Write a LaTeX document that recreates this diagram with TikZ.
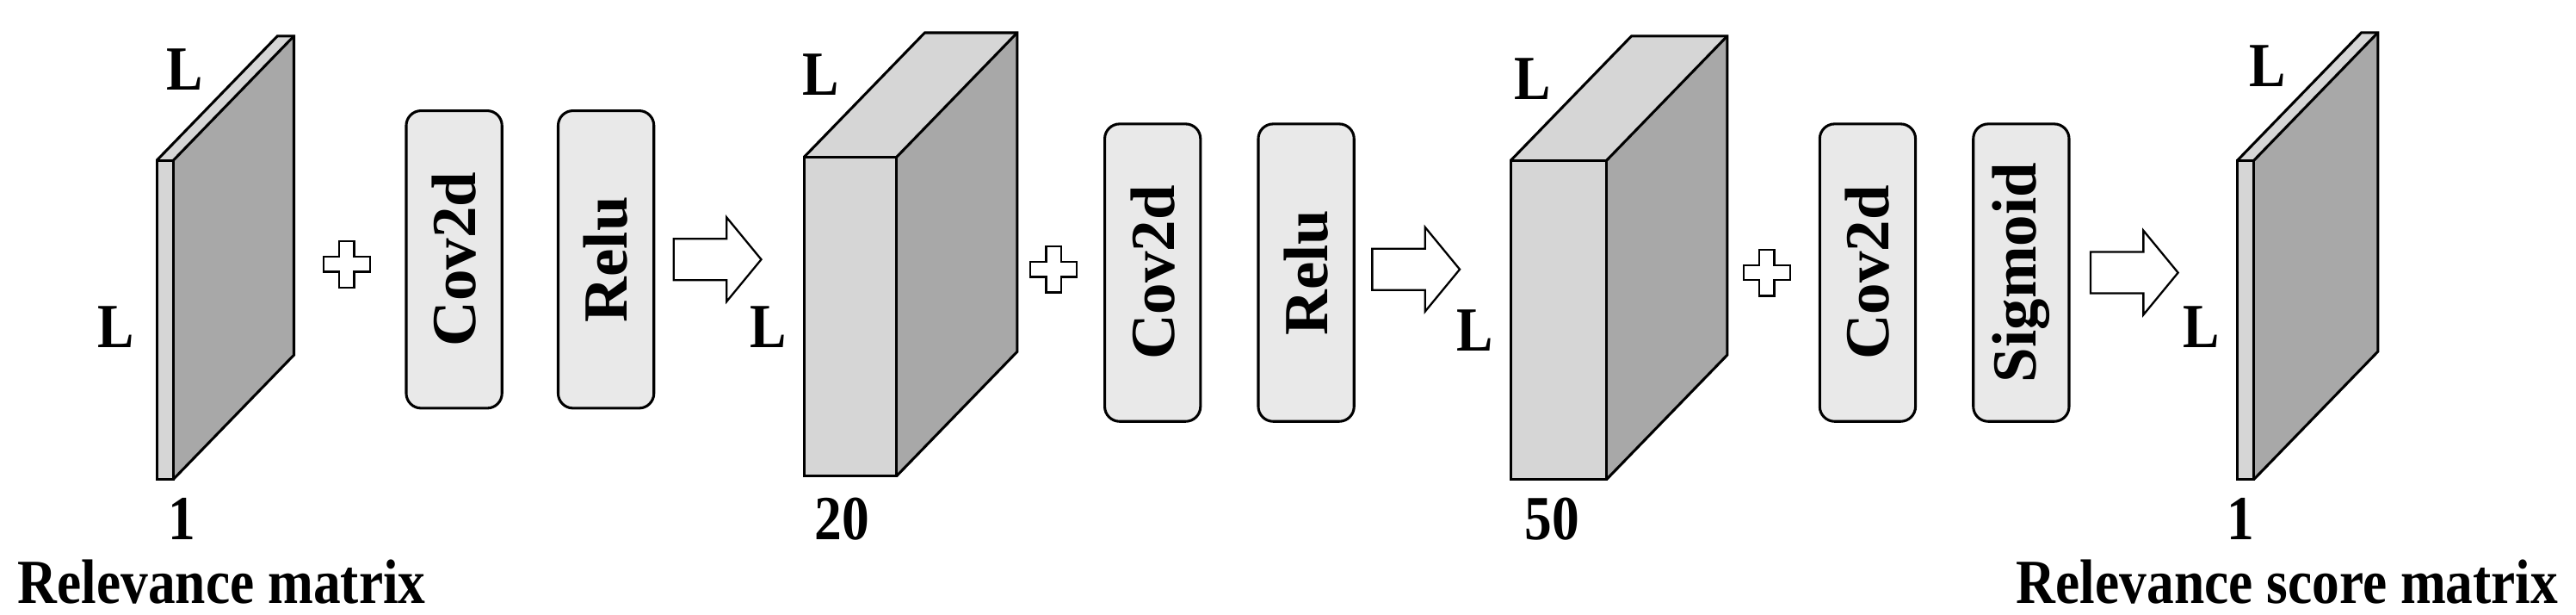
\documentclass[tikz,border=0pt]{standalone}
\usepackage{fontspec}
\setmainfont{Liberation Serif}
\begin{document}
\begin{tikzpicture}[x=1pt,y=-1pt,line width=1.6pt,line join=miter,
  lbl/.style={font=\fontsize{38}{40}\selectfont\bfseries,inner sep=0pt},
  opbox/.style={draw,rounded corners=9pt,fill=gray!17,minimum width=58pt,minimum height=180pt,inner sep=0pt},
  optext/.style={font=\fontsize{38}{40}\selectfont\bfseries,rotate=90,inner sep=0pt},
  plussign/.style={draw,fill=white,line width=1.2pt},
  harrow/.style={draw,fill=white,line width=1.2pt}]
\useasboundingbox (0,0) rectangle (1560,372);
\newcommand{\cond}[1]{\scalebox{0.87}[1]{#1}}
\newcommand{\myblock}[5]{%
  \fill[gray!68] (#2,#3) -- (#2+#5,#3-#5*1.03) -- (#2+#5,#4-#5*1.03) -- (#2,#4) -- cycle;
  \fill[gray!32] (#1,#3) -- (#1+#5,#3-#5*1.03) -- (#2+#5,#3-#5*1.03) -- (#2,#3) -- cycle;
  \fill[gray!32] (#1,#3) rectangle (#2,#4);
  \draw (#1,#3) rectangle (#2,#4);
  \draw (#1,#3) -- (#1+#5,#3-#5*1.03) -- (#2+#5,#3-#5*1.03) -- (#2+#5,#4-#5*1.03) -- (#2,#4);
  \draw (#2,#3) -- (#2+#5,#3-#5*1.03);
}
\myblock{95}{105}{97}{290}{73}
\myblock{487}{543}{95}{288}{73}
\myblock{915}{973}{97}{290}{73}
\myblock{1355}{1365}{97}{290}{75}
% labels
\node[lbl] (l1t) at (112,42) {\cond{L}};
\node[lbl] (l1l) at (70,198) {\cond{L}};
\node[lbl] (n1) at (110,314) {\cond{1}};
\node[lbl,anchor=west] (t1) at (10,352) {\cond{Relevance matrix}};
\node[lbl] (l2t) at (497,45) {\cond{L}};
\node[lbl] (l2l) at (465,198) {\cond{L}};
\node[lbl] (n2) at (510,314) {\cond{20}};
\node[lbl] (l3t) at (928,48) {\cond{L}};
\node[lbl] (l3l) at (893,200) {\cond{L}};
\node[lbl] (n3) at (940,314) {\cond{50}};
\node[lbl] (l4t) at (1373,40) {\cond{L}};
\node[lbl] (l4l) at (1333,198) {\cond{L}};
\node[lbl] (n4) at (1357,314) {\cond{1}};
\node[lbl,anchor=east] (t4) at (1550,352) {\cond{Relevance score matrix}};
% plus signs
\newcommand{\plussym}[2]{%
  \draw[plussign] (#1-4.5,#2-14) -- (#1+4.5,#2-14) -- (#1+4.5,#2-4.5) -- (#1+14,#2-4.5) -- (#1+14,#2+4.5) -- (#1+4.5,#2+4.5) -- (#1+4.5,#2+14) -- (#1-4.5,#2+14) -- (#1-4.5,#2+4.5) -- (#1-14,#2+4.5) -- (#1-14,#2-4.5) -- (#1-4.5,#2-4.5) -- cycle;}
\plussym{210}{160}
\plussym{638}{163}
\plussym{1070}{165}
% boxes
\node[opbox] (c1) at (275,157) {}; \node[optext] at (c1) {Cov2d};
\node[opbox] (r1) at (367,157) {}; \node[optext] at (r1) {Relu};
\node[opbox] (c2) at (698,165) {}; \node[optext] at (c2) {Cov2d};
\node[opbox] (r2) at (791,165) {}; \node[optext] at (r2) {Relu};
\node[opbox] (c3) at (1131,165) {}; \node[optext] at (c3) {Cov2d};
\node[opbox] (s3) at (1224,165) {}; \node[optext] at (s3) {Sigmoid};
% hollow arrows
\newcommand{\harr}[2]{%
  \draw[harrow] (#1,#2-12.5) -- (#1+32,#2-12.5) -- (#1+32,#2-25.5) -- (#1+53,#2) -- (#1+32,#2+25.5) -- (#1+32,#2+12.5) -- (#1,#2+12.5) -- cycle;}
\harr{408}{157}
\harr{831}{163}
\harr{1266}{165}
\end{tikzpicture}
\end{document}
